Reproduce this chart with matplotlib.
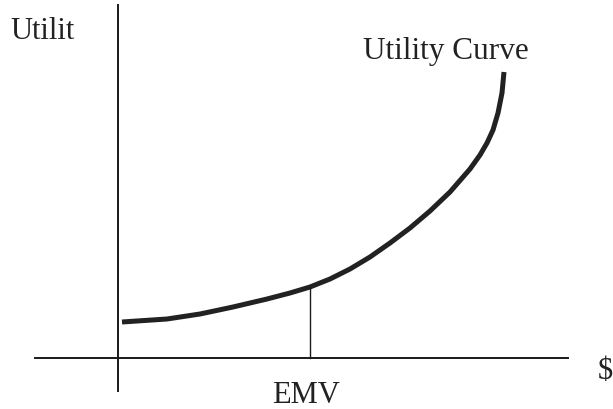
import matplotlib
matplotlib.use("Agg")
import matplotlib.pyplot as plt

# utility curve (origin at the axes crossing)
money = [4, 49, 82, 115, 149, 172, 192, 212, 232, 252, 272, 292, 312, 332, 352, 362, 369, 375, 380, 384, 386]
utility = [36, 39, 44, 51, 59, 65, 71, 79, 89, 101, 115, 130, 147, 166, 189, 203, 215, 228, 245, 265, 286]
emv_x = 192
emv_u = 71

plt.rcParams['font.family'] = ['Liberation Serif', 'DejaVu Serif']

fig = plt.figure(figsize=(6.13, 4.10), dpi=100)
ax = fig.add_axes([0, 0, 1, 1])
ax.set_xlim(-118, 495)
ax.set_ylim(-51, 359)
ax.axis("off")

# hand drawn style axes
ax.plot([-83, 450], [0, 0], color="#1a1a1a", lw=1.4)
ax.plot([0, 0], [-33, 353], color="#1a1a1a", lw=1.4)

ax.plot(money, utility, color="#222222", lw=3.6,
        solid_capstyle="butt", solid_joinstyle="round")
ax.plot([emv_x, emv_x], [0, emv_u], color="#1a1a1a", lw=1.0)

ax.text(-108, 320, "Utilit", fontsize=22, va="baseline", ha="left", color="#222222")
ax.text(245, 300, "Utility Curve", fontsize=22.5, va="baseline", ha="left", color="#222222")
ax.text(188, -44, "EMV", fontsize=22, va="baseline", ha="center", color="#222222")
ax.text(480, -20, "$", fontsize=22, va="baseline", ha="left", color="#222222")

fig.savefig("out.png", dpi=100)
